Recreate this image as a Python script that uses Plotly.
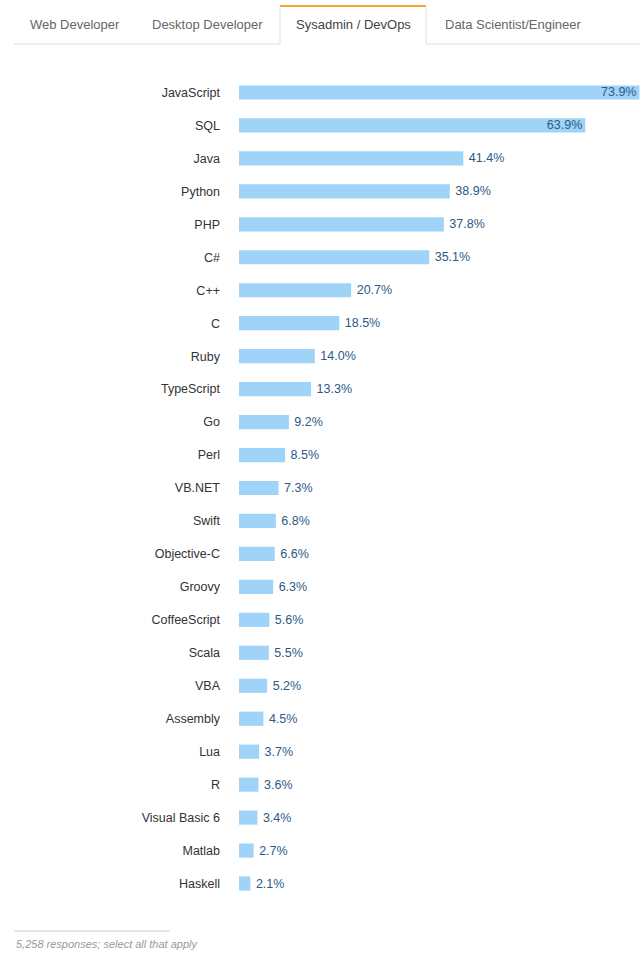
import plotly.graph_objects as go

languages = ["JavaScript", "SQL", "Java", "Python", "PHP", "C#", "C++", "C", "Ruby",
             "TypeScript", "Go", "Perl", "VB.NET", "Swift", "Objective-C", "Groovy",
             "CoffeeScript", "Scala", "VBA", "Assembly", "Lua", "R", "Visual Basic 6",
             "Matlab", "Haskell"]
shares = [73.9, 63.9, 41.4, 38.9, 37.8, 35.1, 20.7, 18.5, 14.0, 13.3, 9.2, 8.5, 7.3,
          6.8, 6.6, 6.3, 5.6, 5.5, 5.2, 4.5, 3.7, 3.6, 3.4, 2.7, 2.1]
tabs = ["Web Developer", "Desktop Developer", "Sysadmin / DevOps", "Data Scientist/Engineer"]
active_tab = "Sysadmin / DevOps"
footnote = "5,258 responses; select all that apply"

W, H = 640, 962
L, R, T, B = 239, 0, 76, 62
PW, PH = W - L - R, H - T - B

def px(x):
    return (x - L) / PW

def py(y):
    return (H - B - y) / PH

FONT = "Liberation Sans, Arial, Helvetica, sans-serif"
positions = ["inside" if v > 60 else "outside" for v in shares]

fig = go.Figure(go.Bar(
    x=shares, y=languages, orientation="h",
    marker=dict(color="#9fd3f7", line=dict(width=0)),
    width=0.43,
    text=[("" if v > 60 else "\u2009") + f"{v:.1f}%" for v in shares],
    textposition=positions,
    insidetextanchor="end",
    constraintext="none",
    textfont=dict(family=FONT, size=12.5, color="#2b5a88"),
    insidetextfont=dict(family=FONT, size=12.5, color="#2b5a88"),
    outsidetextfont=dict(family=FONT, size=12.5, color="#2b5a88"),
    cliponaxis=False,
    hoverinfo="skip",
))

shapes = []
annotations = []
shapes.append(dict(type="line", xref="paper", yref="paper", x0=px(14), x1=px(280), y0=py(44), y1=py(44),
                   line=dict(color="#dddddd", width=1)))
shapes.append(dict(type="line", xref="paper", yref="paper", x0=px(426), x1=px(640), y0=py(44), y1=py(44),
                   line=dict(color="#dddddd", width=1)))
for xx in (280, 426):
    shapes.append(dict(type="line", xref="paper", yref="paper", x0=px(xx), x1=px(xx), y0=py(6), y1=py(44),
                       line=dict(color="#e2e2e2", width=1)))
shapes.append(dict(type="line", xref="paper", yref="paper", x0=px(280), x1=px(426), y0=py(6), y1=py(6),
                   line=dict(color="#f2a93b", width=2)))
shapes.append(dict(type="line", xref="paper", yref="paper", x0=px(14), x1=px(170), y0=py(931), y1=py(931),
                   line=dict(color="#cccccc", width=1)))

tab_x = [28, 150, 294, 443]
for name, xx in zip(tabs, tab_x):
    annotations.append(dict(text=name, xref="paper", yref="paper", x=px(xx), y=py(24),
                            xanchor="left", yanchor="middle", showarrow=False,
                            font=dict(family=FONT, size=13,
                                      color="#444444" if name == active_tab else "#666666")))
annotations.append(dict(text=f"<i>{footnote}</i>", xref="paper", yref="paper", x=px(14), y=py(944),
                        xanchor="left", yanchor="middle", showarrow=False,
                        font=dict(family=FONT, size=11, color="#999999")))

fig.update_layout(
    width=W, height=H,
    margin=dict(l=L, r=R, t=T, b=B, pad=0),
    paper_bgcolor="white", plot_bgcolor="white",
    showlegend=False,
    xaxis=dict(range=[0, 74.0], visible=False, fixedrange=True),
    yaxis=dict(autorange="reversed", categoryorder="array", categoryarray=languages,
               showgrid=False, zeroline=False, showline=False, ticks="",
               ticklabelstandoff=18,
               tickfont=dict(family=FONT, size=12.5, color="#333333")),
    shapes=shapes,
    annotations=annotations,
    font=dict(family=FONT),
)

fig.write_html(
    "out.html",
    config={"displayModeBar": False},
    post_script="document.body.style.margin='0';document.documentElement.style.overflow='hidden';document.body.style.overflow='hidden';",
)
